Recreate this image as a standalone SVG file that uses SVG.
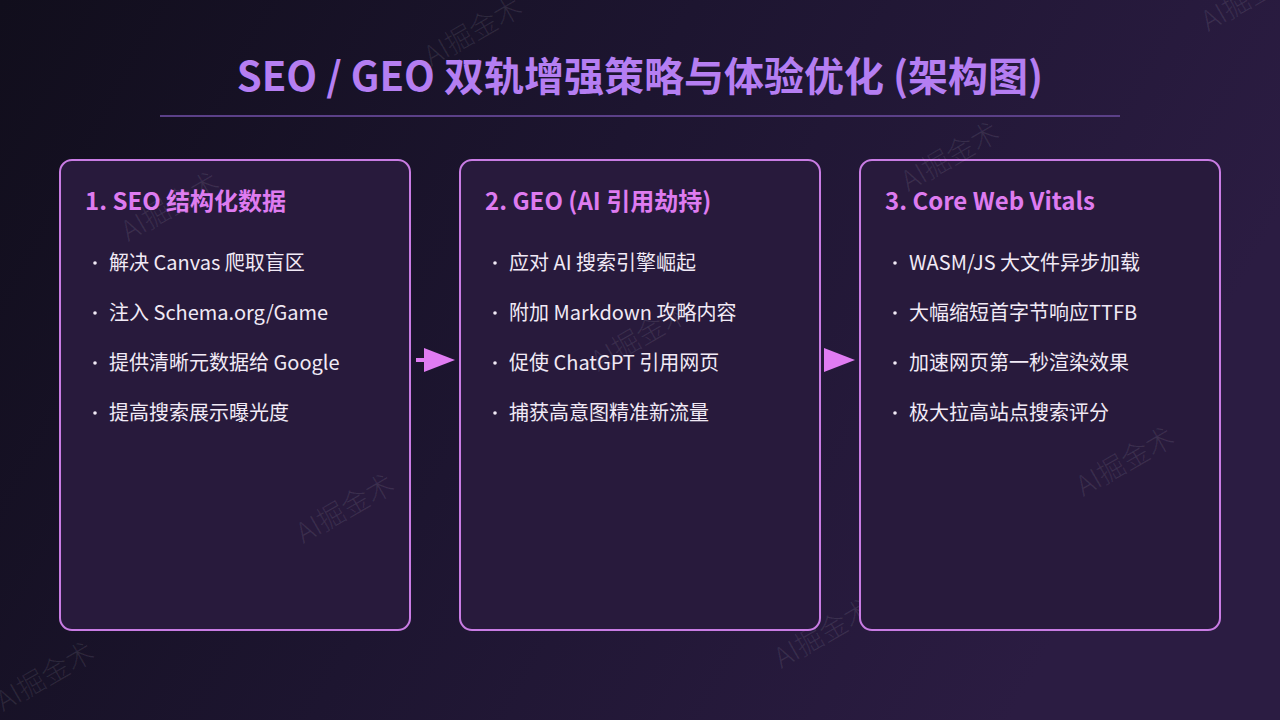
<svg xmlns="http://www.w3.org/2000/svg" width="1280" height="720" viewBox="0 0 1280 720">
  <defs>
    <linearGradient id="bg" x1="0" y1="0" x2="1" y2="0.3">
      <stop offset="0" stop-color="#110e1c"/>
      <stop offset="0.5" stop-color="#1d1530"/>
      <stop offset="1" stop-color="#2b1c42"/>
    </linearGradient>
  </defs>
  <style>
    .title { font-family: "Noto Sans CJK SC", "Noto Sans", sans-serif; font-weight: 700; font-size: 40px; fill: #b57ef2; }
    .box { fill: #281a3c; stroke: #c97ce4; stroke-width: 2; }
    .head { font-family: "Noto Sans CJK SC", "Noto Sans", sans-serif; font-weight: 700; font-size: 24px; fill: #de7bf0; }
    .item { font-family: "Noto Sans CJK SC", "Noto Sans", sans-serif; font-size: 20px; fill: #f1eaf6; }
    .dot { fill: #f1eaf6; }
    .arrow { fill: #e07cf2; }
    .wm { font-family: "Noto Sans CJK SC", "Noto Sans", sans-serif; font-weight: 300; font-size: 28px; fill: #ffffff; fill-opacity: 0.09; }
  </style>
  <rect width="1280" height="720" fill="url(#bg)"/>

  <g id="watermarks-back">
    <text class="wm" text-anchor="middle" transform="translate(478,40) rotate(-30)">AI掘金术</text>
    <text class="wm" text-anchor="middle" transform="translate(1255,5) rotate(-30)">AI掘金术</text>
    <text class="wm" text-anchor="middle" transform="translate(828,642) rotate(-30)">AI掘金术</text>
    <text class="wm" text-anchor="middle" transform="translate(50,685) rotate(-30)">AI掘金术</text>
  </g>

  <g id="title">
    <text class="title" x="640" y="91" text-anchor="middle">SEO / GEO 双轨增强策略与体验优化 (架构图)</text>
    <rect x="160" y="115" width="960" height="2" fill="#5b4088"/>
  </g>

  <g id="node-seo">
    <rect class="box" x="60" y="160" width="350" height="470" rx="12"/>
    <text class="head" x="85" y="210">1. SEO 结构化数据</text>
    <circle class="dot" cx="95" cy="263" r="1.8"/>
    <text class="item" x="109" y="270">解决 Canvas 爬取盲区</text>
    <circle class="dot" cx="95" cy="313" r="1.8"/>
    <text class="item" x="109" y="320">注入 Schema.org/Game</text>
    <circle class="dot" cx="95" cy="363" r="1.8"/>
    <text class="item" x="109" y="370">提供清晰元数据给 Google</text>
    <circle class="dot" cx="95" cy="413" r="1.8"/>
    <text class="item" x="109" y="420">提高搜索展示曝光度</text>
  </g>

  <g id="node-geo">
    <rect class="box" x="460" y="160" width="360" height="470" rx="12"/>
    <text class="head" x="485" y="210">2. GEO (AI 引用劫持)</text>
    <circle class="dot" cx="495" cy="263" r="1.8"/>
    <text class="item" x="509" y="270">应对 AI 搜索引擎崛起</text>
    <circle class="dot" cx="495" cy="313" r="1.8"/>
    <text class="item" x="509" y="320">附加 Markdown 攻略内容</text>
    <circle class="dot" cx="495" cy="363" r="1.8"/>
    <text class="item" x="509" y="370">促使 ChatGPT 引用网页</text>
    <circle class="dot" cx="495" cy="413" r="1.8"/>
    <text class="item" x="509" y="420">捕获高意图精准新流量</text>
  </g>

  <g id="node-cwv">
    <rect class="box" x="860" y="160" width="360" height="470" rx="12"/>
    <text class="head" x="885" y="210">3. Core Web Vitals</text>
    <circle class="dot" cx="895" cy="263" r="1.8"/>
    <text class="item" x="909" y="270">WASM/JS 大文件异步加载</text>
    <circle class="dot" cx="895" cy="313" r="1.8"/>
    <text class="item" x="909" y="320">大幅缩短首字节响应TTFB</text>
    <circle class="dot" cx="895" cy="363" r="1.8"/>
    <text class="item" x="909" y="370">加速网页第一秒渲染效果</text>
    <circle class="dot" cx="895" cy="413" r="1.8"/>
    <text class="item" x="909" y="420">极大拉高站点搜索评分</text>
  </g>

  <g id="watermarks-front">
    <text class="wm" text-anchor="middle" transform="translate(175,215) rotate(-30)">AI掘金术</text>
    <text class="wm" text-anchor="middle" transform="translate(350,517) rotate(-30)">AI掘金术</text>
    <text class="wm" text-anchor="middle" transform="translate(645,345) rotate(-30)">AI掘金术</text>
    <text class="wm" text-anchor="middle" transform="translate(955,165) rotate(-30)">AI掘金术</text>
    <text class="wm" text-anchor="middle" transform="translate(1130,470) rotate(-30)">AI掘金术</text>
  </g>

  <g id="connectors">
    <rect class="arrow" x="416" y="358" width="10" height="4"/>
    <polygon class="arrow" points="424,348 455,360 424,372"/>
    <polygon class="arrow" points="824,348 855,360 824,372"/>
  </g>
</svg>
